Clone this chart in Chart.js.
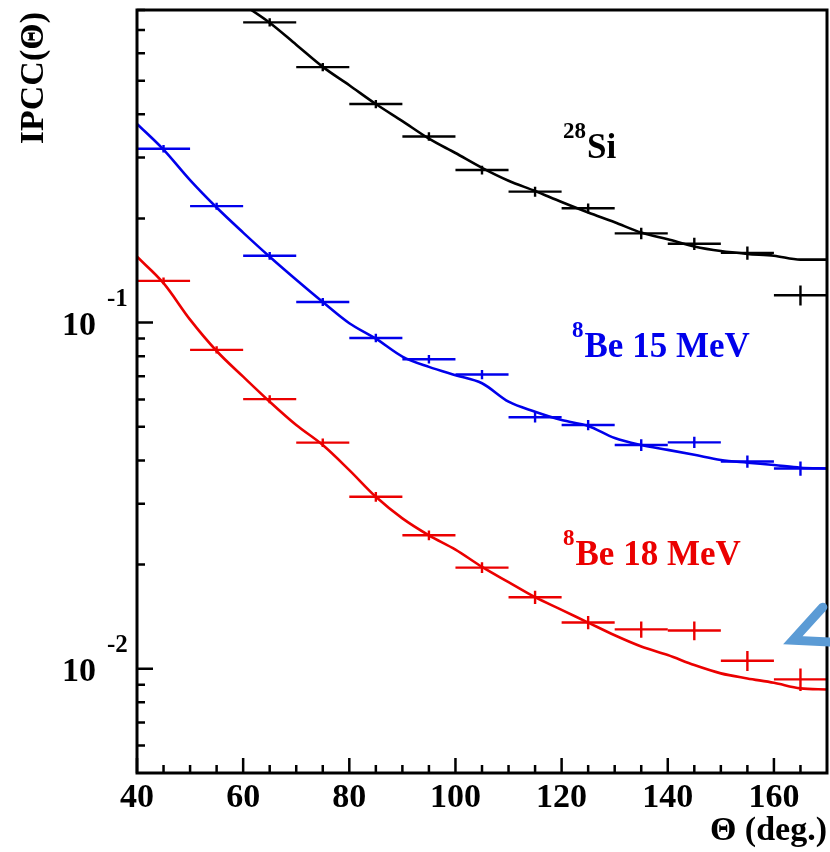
<!DOCTYPE html>
<html>
<head>
<meta charset="utf-8">
<script src="https://cdn.jsdelivr.net/npm/chart.js@4.4.1/dist/chart.umd.min.js"></script>
<style>
  body { margin: 0; background: #fff; }
  #wrap { width: 830px; height: 852px; }
</style>
</head>
<body>
<div id="wrap"><canvas id="myChart" width="830" height="852"></canvas></div>
<script>
// bin centres of the measured points (bin width 10 deg)
var binX = [45, 55, 65, 75, 85, 95, 105, 115, 125, 135, 145, 155, 165];
var siPts = [null, null, 0.737, 0.547, 0.428, 0.345, 0.276, 0.239, 0.214, 0.181, 0.169, 0.159, 0.120];
var siErr = [null, null, 0.02, 0.015, 0.012, 0.010, 0.008, 0.008, 0.007, 0.007, 0.007, 0.007, 0.008];
var be15Pts = [0.318, 0.217, 0.156, 0.1147, 0.0903, 0.0784, 0.0708, 0.0533, 0.0506, 0.0443, 0.0451, 0.0397, 0.0379];
var be15Err = [0.008, 0.005, 0.004, 0.003, 0.0025, 0.0022, 0.0022, 0.0018, 0.0017, 0.0017, 0.0017, 0.0016, 0.0018];
var be18Pts = [0.132, 0.0834, 0.0601, 0.0450, 0.0314, 0.0243, 0.0196, 0.0161, 0.0136, 0.0130, 0.0129, 0.01055, 0.00932];
var be18Err = [0.003, 0.002, 0.0016, 0.0013, 0.001, 0.0008, 0.0007, 0.0007, 0.0006, 0.0007, 0.0008, 0.0007, 0.0007];

// simulated curves, read every 5 deg
var curveX = [40, 45, 50, 55, 60, 65, 70, 75, 80, 85, 90, 95, 100, 105, 110, 115, 120, 125, 130, 135, 140, 145, 150, 155, 160, 165, 170];
var siCurve = [null, null, null, null, 0.83, 0.735, 0.635, 0.548, 0.485, 0.428, 0.382, 0.340, 0.309, 0.280, 0.257, 0.240, 0.223, 0.208, 0.195, 0.182, 0.174, 0.166, 0.161, 0.158, 0.156, 0.152, 0.152];
var be15Curve = [0.375, 0.316, 0.258, 0.215, 0.182, 0.155, 0.133, 0.1147, 0.0996, 0.0899, 0.0798, 0.0745, 0.0705, 0.0668, 0.0591, 0.0553, 0.0523, 0.0503, 0.0464, 0.0443, 0.0429, 0.0415, 0.0401, 0.0394, 0.0388, 0.0381, 0.0379];
var be18Curve = [0.155, 0.130, 0.102, 0.0828, 0.0698, 0.0591, 0.0506, 0.0443, 0.0375, 0.0314, 0.0272, 0.0243, 0.0221, 0.0197, 0.0178, 0.0161, 0.0148, 0.0136, 0.0125, 0.0116, 0.01096, 0.01025, 0.0097, 0.00938, 0.00911, 0.00878, 0.00871];

// axis ticks
var xMajor = [40, 60, 80, 100, 120, 140, 160];
var xMinor = [45, 50, 55, 65, 70, 75, 85, 90, 95, 105, 110, 115, 125, 130, 135, 145, 150, 155, 165];
var yMajorExp = [-1, -2];
var yMinor = [0.006, 0.007, 0.008, 0.009, 0.02, 0.03, 0.04, 0.05, 0.06, 0.07, 0.08, 0.09, 0.2, 0.3, 0.4, 0.5, 0.6, 0.7, 0.8];

var BLACK = "#000000";
var BLUE = "rgb(0,0,235)";
var RED = "rgb(235,0,0)";
var FONT = '"Liberation Serif", "Times New Roman", serif';

function toXY(xs, ys) {
  var out = [];
  for (var i = 0; i < xs.length; i++) {
    if (ys[i] !== null) out.push({ x: xs[i], y: ys[i] });
  }
  return out;
}

function curveSet(ys, color) {
  return {
    type: "line",
    data: toXY(curveX, ys),
    borderColor: color,
    borderWidth: 2.6,
    pointRadius: 0,
    cubicInterpolationMode: "monotone",
    fill: false
  };
}

function pointSet(ys, errs, color) {
  var d = [];
  for (var i = 0; i < binX.length; i++) {
    if (ys[i] !== null) d.push({ x: binX[i], y: ys[i], err: errs[i] });
  }
  return { type: "scatter", data: d, borderColor: color, pointRadius: 0, showLine: false, crosses: true };
}

var framePlugin = {
  id: "frame",
  afterDatasetsDraw: function (chart) {
    var c = chart.ctx, a = chart.chartArea;
    var xs = chart.scales.x, ys = chart.scales.y;

    // error crosses
    c.save();
    c.beginPath();
    c.rect(a.left, a.top, a.right - a.left, a.bottom - a.top);
    c.clip();
    chart.data.datasets.forEach(function (ds) {
      if (!ds.crosses) return;
      c.strokeStyle = ds.borderColor;
      c.lineWidth = 2.4;
      ds.data.forEach(function (p) {
        var px = xs.getPixelForValue(p.x), py = ys.getPixelForValue(p.y);
        c.beginPath();
        c.moveTo(xs.getPixelForValue(p.x - 5), py);
        c.lineTo(xs.getPixelForValue(p.x + 5), py);
        c.moveTo(px, ys.getPixelForValue(p.y - p.err));
        c.lineTo(px, ys.getPixelForValue(p.y + p.err));
        c.stroke();
      });
    });
    c.restore();

    c.save();
    c.strokeStyle = "#000";
    // ticks
    c.lineWidth = 2.5;
    c.beginPath();
    xMajor.forEach(function (v) {
      var px = xs.getPixelForValue(v);
      c.moveTo(px, a.bottom); c.lineTo(px, a.bottom - 15);
    });
    xMinor.forEach(function (v) {
      var px = xs.getPixelForValue(v);
      c.moveTo(px, a.bottom); c.lineTo(px, a.bottom - 8);
    });
    yMajorExp.forEach(function (e) {
      var py = ys.getPixelForValue(Math.pow(10, e));
      c.moveTo(a.left, py); c.lineTo(a.left + 16, py);
    });
    yMinor.forEach(function (v) {
      var py = ys.getPixelForValue(v);
      c.moveTo(a.left, py); c.lineTo(a.left + 8, py);
    });
    c.stroke();

    // frame
    c.lineWidth = 3;
    c.strokeRect(a.left, a.top, a.right - a.left, a.bottom - a.top);

    // tick labels
    c.fillStyle = "#000";
    c.font = "bold 34px " + FONT;
    c.textAlign = "center";
    c.textBaseline = "alphabetic";
    xMajor.forEach(function (v) {
      c.fillText(String(v), xs.getPixelForValue(v), 807);
    });
    yMajorExp.forEach(function (e) {
      var py = ys.getPixelForValue(Math.pow(10, e));
      c.font = "bold 34px " + FONT;
      c.textAlign = "right";
      c.fillText("10", 96, py + 12);
      c.font = "bold 25px " + FONT;
      c.textAlign = "left";
      c.fillText("-" + String(-e), 107, py - 17);
    });

    // axis titles
    c.font = "bold 34px " + FONT;
    c.textAlign = "right";
    c.fillText("\u0398 (deg.)", a.right, 840);
    c.save();
    c.translate(43, a.top + 2);
    c.rotate(-Math.PI / 2);
    c.textAlign = "right";
    c.fillText("IPCC(\u0398)", 0, 0);
    c.restore();

    // series annotations
    function isotope(mass, name, x, y, color) {
      c.fillStyle = color;
      c.textAlign = "left";
      c.font = "bold 23px " + FONT;
      c.fillText(mass, x, y - 20);
      var w = c.measureText(mass).width;
      c.font = "bold 35px " + FONT;
      c.fillText(name, x + w + 1, y);
    }
    isotope("28", "Si", 563, 158, BLACK);
    isotope("8", "Be 15 MeV", 572, 357, BLUE);
    isotope("8", "Be 18 MeV", 563, 565, RED);

    // pointer arrow
    var tx = xs.getPixelForValue(163), ty = ys.getPixelForValue(0.0121);
    c.strokeStyle = "rgb(91,155,213)";
    c.lineWidth = 9;
    c.lineCap = "round";
    c.lineJoin = "miter";
    c.beginPath();
    c.moveTo(tx + 33, ty - 33);
    c.lineTo(tx + 3, ty);
    c.lineTo(tx + 42, ty + 2);
    c.stroke();
    c.restore();
  }
};

var ctx = document.getElementById("myChart").getContext("2d");
var chart = new Chart(ctx, {
  type: "line",
  data: {
    datasets: [
      curveSet(siCurve, BLACK),
      curveSet(be15Curve, BLUE),
      curveSet(be18Curve, RED),
      pointSet(siPts, siErr, BLACK),
      pointSet(be15Pts, be15Err, BLUE),
      pointSet(be18Pts, be18Err, RED)
    ]
  },
  options: {
    responsive: false,
    animation: false,
    layout: { padding: { left: 137, right: 3, top: 10, bottom: 79 } },
    plugins: { legend: { display: false }, tooltip: { enabled: false } },
    scales: {
      x: { type: "linear", min: 40, max: 170, display: false },
      y: { type: "logarithmic", min: 0.005, max: 0.8, display: false }
    }
  },
  plugins: [framePlugin]
});
</script>
</body>
</html>
